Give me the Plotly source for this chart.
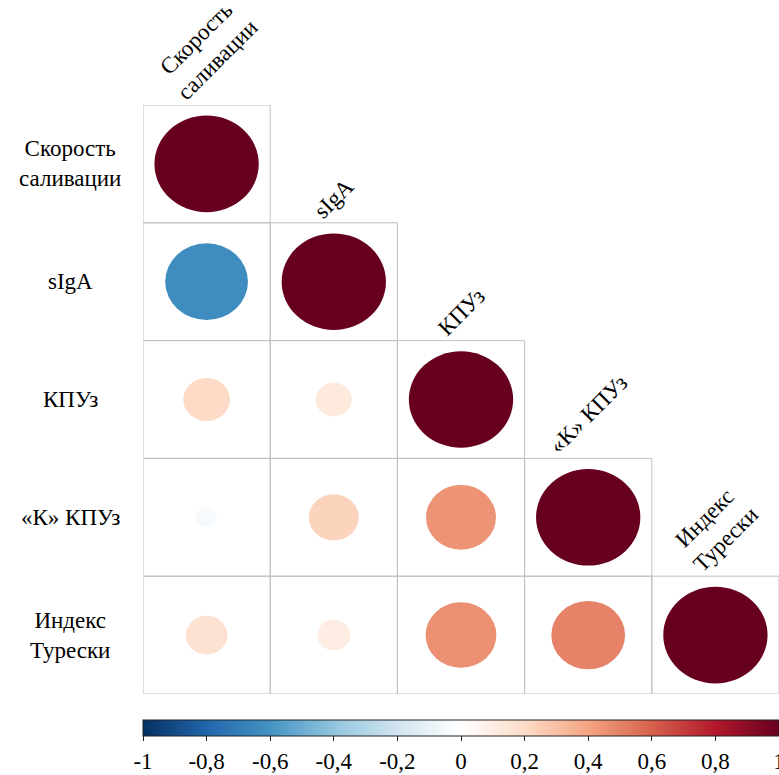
import math
import plotly.graph_objects as go
from plotly.colors import sample_colorscale

# Variable names (rows top-to-bottom, columns left-to-right)
row_labels = ["Скорость<br>саливации", "sIgA", "КПУз", "«К» КПУз", "Индекс<br>Турески"]
col_labels = ["Скорость<br>саливации", "sIgA", "КПУз", "«К» КПУз", "Индекс<br>Турески"]

# Lower-triangle correlation coefficients, one list per row (diagonal included)
r_speed = [1.00]
r_siga = [-0.63, 1.00]
r_kpu = [0.20, 0.12, 1.00]
r_k_kpu = [-0.04, 0.23, 0.45, 1.00]
r_turesky = [0.16, 0.10, 0.46, 0.50, 1.00]
corr_rows = [r_speed, r_siga, r_kpu, r_k_kpu, r_turesky]

# Colorbar ticks
tick_vals = [-1, -0.8, -0.6, -0.4, -0.2, 0, 0.2, 0.4, 0.6, 0.8, 1]
tick_text = ["-1", "-0,8", "-0,6", "-0,4", "-0,2", "0", "0,2", "0,4", "0,6", "0,8", "1"]

# Diverging blue-white-red palette
palette = [
    "rgb(5,48,97)", "rgb(33,102,172)", "rgb(67,147,195)", "rgb(146,197,222)",
    "rgb(209,229,240)", "rgb(255,255,255)", "rgb(253,219,199)", "rgb(244,165,130)",
    "rgb(214,96,77)", "rgb(178,24,43)", "rgb(103,0,31)",
]
colorscale = [[i / 10, c] for i, c in enumerate(palette)]

FONT = "Liberation Serif"
n = len(row_labels)
scale = 0.82  # circle diameter for |r| = 1, as a fraction of the cell
plot_w = 779 - 143

shapes = []
# cell frames
for i, row in enumerate(corr_rows):
    for j in range(len(row)):
        shapes.append(dict(type="rect", xref="x", yref="y", x0=j, x1=j + 1, y0=i, y1=i + 1,
                           line=dict(color="rgb(192,192,192)", width=1),
                           fillcolor="rgba(0,0,0,0)", layer="below"))
# circles: area proportional to |r|, colour from r
cx, cy, cv = [], [], []
for i, row in enumerate(corr_rows):
    for j, r in enumerate(row):
        d = scale * math.sqrt(abs(r))
        col = sample_colorscale(colorscale, [(r + 1) / 2])[0]
        shapes.append(dict(type="circle", xref="x", yref="y",
                           x0=j + 0.5 - d / 2, x1=j + 0.5 + d / 2,
                           y0=i + 0.5 - d / 2, y1=i + 0.5 + d / 2,
                           fillcolor=col, line=dict(width=0), layer="above"))
        cx.append(j + 0.5)
        cy.append(i + 0.5)
        cv.append(r)

fig = go.Figure()
fig.add_trace(go.Scatter(
    x=cx, y=cy, mode="markers", hoverinfo="skip", showlegend=False,
    marker=dict(size=0.1, opacity=0, color=cv, cmin=-1, cmax=1, colorscale=colorscale,
                showscale=True,
                colorbar=dict(orientation="h", x=0.5, xanchor="center", y=-0.044, yanchor="top",
                              len=1, lenmode="fraction", thickness=16, xpad=0, ypad=0,
                              outlinewidth=1, outlinecolor="#222",
                              tickmode="array", tickvals=tick_vals, ticktext=tick_text,
                              ticks="outside", ticklen=5, tickcolor="#222",
                              ticklabeloverflow="allow",
                              tickfont=dict(family=FONT, size=23, color="black"))),
))

annotations = []
for i, lab in enumerate(row_labels):
    annotations.append(dict(x=(70 - 143) / plot_w, y=i + 0.5, xref="paper", yref="y", text=lab,
                            showarrow=False, xanchor="center", yanchor="middle", align="center",
                            font=dict(family=FONT, size=23, color="black")))
for j, lab in enumerate(col_labels):
    annotations.append(dict(x=j + 0.5, y=j, xref="x", yref="y", text=lab, showarrow=False,
                            xanchor="center", yanchor="bottom", align="center", textangle=-45,
                            yshift=-3, font=dict(family=FONT, size=23, color="black")))

fig.update_layout(
    width=779, height=775,
    margin=dict(l=143, r=0, t=105, b=78),
    paper_bgcolor="white", plot_bgcolor="white",
    xaxis=dict(range=[0, n], visible=False, fixedrange=True),
    yaxis=dict(range=[n, 0], visible=False, fixedrange=True),
    shapes=shapes, annotations=annotations,
)

fig.write_html("out.html")
